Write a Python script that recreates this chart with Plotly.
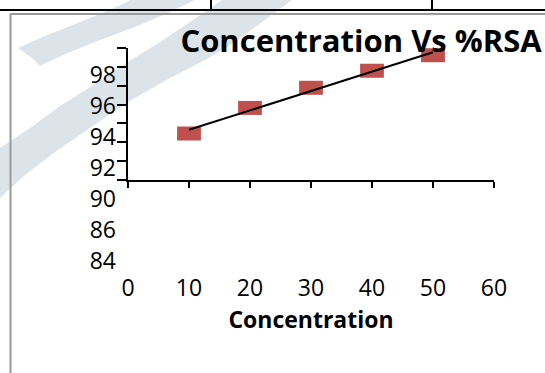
import numpy as np
import plotly.graph_objects as go

# ---- data ----
concentration = [10, 20, 30, 40, 50]
rsa = [94.2, 95.85, 97.15, 98.25, 99.25]
x_ticks = [0, 10, 20, 30, 40, 50, 60]
y_label_vals = [98, 96, 94, 92, 90, 88, 86]
y_label_text = ["98", "96", "94", "92", "90", "86", "84"]
title_text = "Concentration Vs %RSA"
x_title = "Concentration"

W, H = 545, 373
def px(x): return x / W
def py(y): return 1 - y / H

FONT = "Open Sans"
RED = "#c0504d"

# label scale (px per unit) and reference position
LAB98, PPU = 74.6, 15.5
y_top = 98 + (LAB98 - 48) / PPU
y_bot = 98 - (180 - LAB98) / PPU
y2_bot = 98 - (278 - LAB98) / PPU
dt = (y_top - y_bot) / 7
mark_vals = [y_bot + i * dt for i in range(8)]

# trendline
slope, icpt = np.polyfit(concentration, rsa, 1)
tx = [min(concentration), max(concentration)]
ty = [slope * v + icpt for v in tx]

fig = go.Figure()
fig.add_trace(go.Scatter(
    x=concentration, y=rsa, mode="markers",
    marker=dict(symbol="line-ew", size=17, color=RED,
                line=dict(color=RED, width=14)),
    showlegend=False, hoverinfo="skip"))
fig.add_trace(go.Scatter(
    x=tx, y=ty, mode="lines", line=dict(color="black", width=2),
    showlegend=False, hoverinfo="skip"))
# invisible trace for label axis
fig.add_trace(go.Scatter(
    x=concentration, y=rsa, yaxis="y2", mode="markers",
    marker=dict(opacity=0), showlegend=False, hoverinfo="skip"))

def poly(points):
    s = "M " + " L ".join(f"{px(a):.5f},{py(b):.5f}" for a, b in points) + " Z"
    return s

WM = "#dde4e9"
band1 = [(0, 148), (30, 128), (60, 106), (95, 84), (128, 62), (160, 42), (190, 22), (215, 5), (222, 0),
         (292, 0), (265, 20), (235, 42), (205, 60), (170, 78), (128, 102), (90, 128), (55, 152),
         (25, 175), (0, 198)]
band2 = [(18, 48), (40, 38), (70, 26), (100, 14), (125, 3), (130, 0), (195, 0), (170, 12),
         (140, 25), (100, 40), (70, 52), (48, 62), (40, 66), (32, 58)]
shapes = []
for b in (band1, band2):
    shapes.append(dict(type="path", path=poly(b), xref="paper", yref="paper",
                       fillcolor=WM, line=dict(width=0), layer="below"))
# page decorations
shapes += [
    dict(type="line", xref="paper", yref="paper", x0=0, x1=1, y0=py(10), y1=py(10),
         line=dict(color="black", width=2)),
    dict(type="line", xref="paper", yref="paper", x0=px(211), x1=px(211), y0=py(0), y1=py(10),
         line=dict(color="black", width=2)),
    dict(type="line", xref="paper", yref="paper", x0=px(432), x1=px(432), y0=py(0), y1=py(10),
         line=dict(color="black", width=2)),
    dict(type="line", xref="paper", yref="paper", x0=px(10), x1=1, y0=py(14), y1=py(14),
         line=dict(color="#9a9a9a", width=2)),
    dict(type="line", xref="paper", yref="paper", x0=px(10.5), x1=px(10.5), y0=py(14), y1=0,
         line=dict(color="#9a9a9a", width=2)),
]

fig.update_layout(
    width=W, height=H, margin=dict(l=0, r=0, t=0, b=0),
    paper_bgcolor="white", plot_bgcolor="rgba(0,0,0,0)",
    font=dict(family=FONT, color="black", size=23),
    title=dict(text=f"<b>{title_text}</b>", x=px(361), y=py(41),
               xanchor="center", yanchor="middle", xref="paper", yref="paper",
               font=dict(family=FONT, size=31, color="black")),
    xaxis=dict(domain=[px(128), px(494)], range=[0, 60], tickvals=x_ticks,
               showline=True, linecolor="black", linewidth=2, ticks="outside",
               ticklen=6, tickwidth=2, tickcolor="black", showgrid=False, zeroline=False,
               ticklabelstandoff=80, tickfont=dict(size=23),
               title=dict(text=f"<b>{x_title}</b>", font=dict(size=23), standoff=0),
               automargin=False, anchor="y"),
    yaxis=dict(domain=[py(180), py(48)], range=[y_bot, y_top + 1e-6], tickvals=mark_vals,
               showticklabels=False, showline=True, linecolor="black", linewidth=2,
               ticks="outside", ticklen=9, tickwidth=2, tickcolor="black",
               showgrid=False, zeroline=False, automargin=False, anchor="x"),
    yaxis2=dict(domain=[py(278), py(48)], range=[y2_bot, y_top], tickvals=y_label_vals,
                ticktext=y_label_text, anchor="free", position=px(128), side="left",
                showline=False, ticks="", showgrid=False, zeroline=False,
                ticklabelstandoff=12, tickfont=dict(size=23), automargin=False),
    shapes=shapes,
)
fig.write_html("out.html")
